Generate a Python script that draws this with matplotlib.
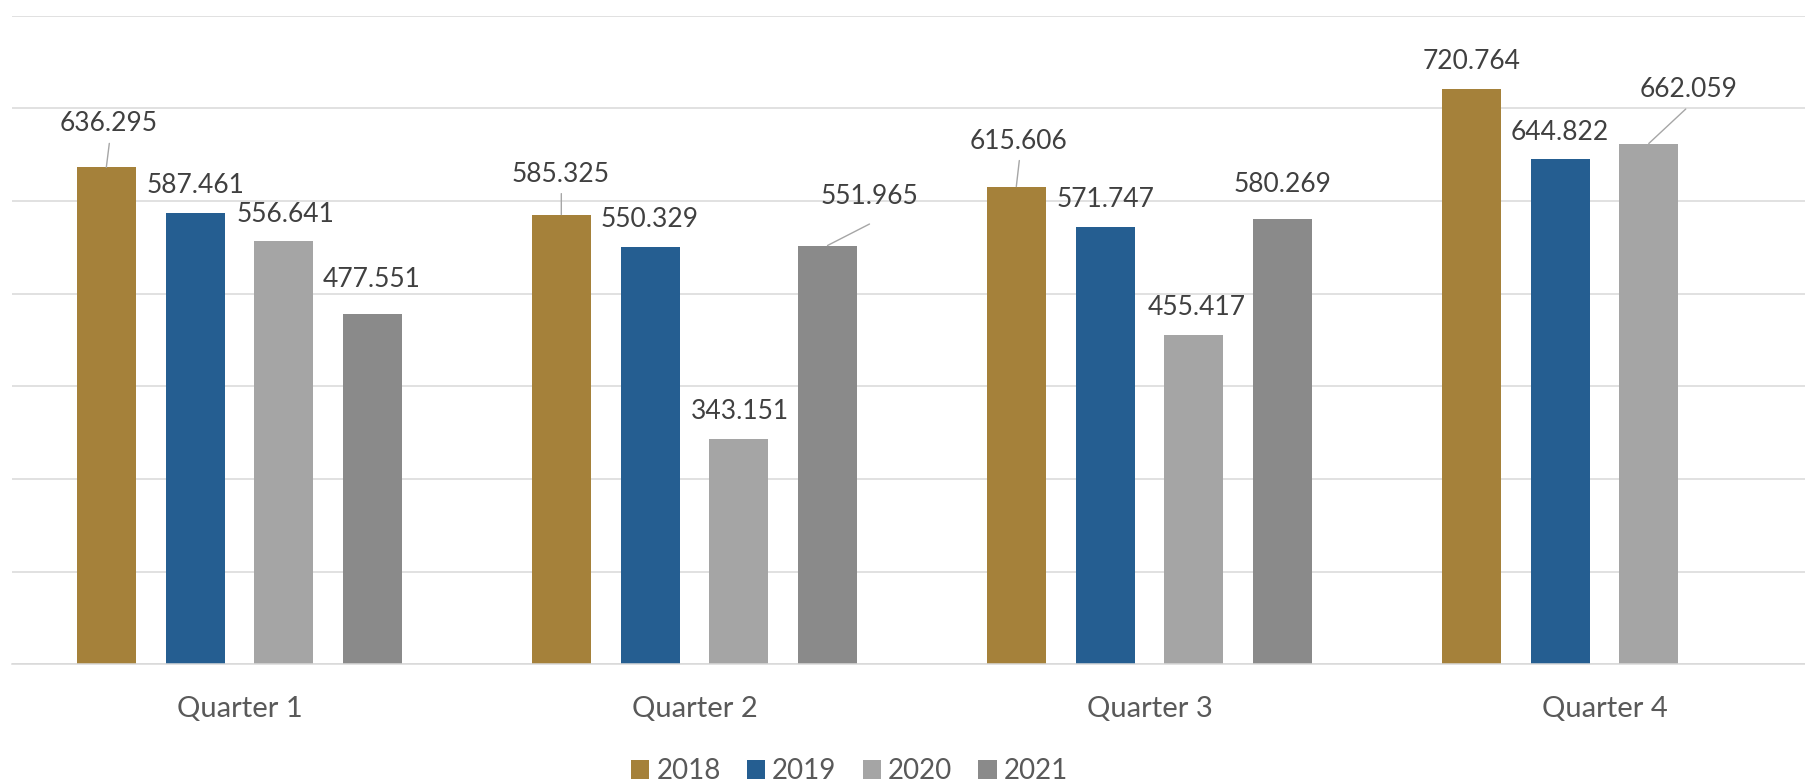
import numpy as np
import matplotlib
matplotlib.use("Agg")
from matplotlib import pyplot as plt
from matplotlib.patches import Patch

plt.rcParams["font.family"] = ["Lato", "DejaVu Sans"]

# ---- data ----
quarters = ["Quarter 1", "Quarter 2", "Quarter 3", "Quarter 4"]
years = ["2018", "2019", "2020", "2021"]
v2018 = [636.295, 585.325, 615.606, 720.764]
v2019 = [587.461, 550.329, 571.747, 644.822]
v2020 = [556.641, 343.151, 455.417, 662.059]
v2021 = [477.551, 551.965, 580.269, np.nan]   # no Q4 value

series = [v2018, v2019, v2020, v2021]
colors = ["#A5813A", "#255E91", "#A5A5A5", "#8A8A8A"]

# label offsets in pixels (dx, dy of baseline above bar top), per series and quarter
label_off = [
    [(2, 36), (-1, 33), (2.5, 38), (0, 20)],
    [(0, 20), (0, 20), (0, 20), (0, 19.5)],
    [(2, 19), (1.5, 20), (2.5, 20), (40, 47)],
    [(-1, 27.5), (41.5, 41.5), (0, 27.5), None],
]
# leader line end points (pixels from bar top), only where the label was moved
leaders = {
    (0, 0): (3, 24),
    (0, 1): (0, 21),
    (0, 2): (3, 26),
    (3, 1): (42, 21.5),
    (2, 3): (37, 34.5),
}

fig = plt.figure(figsize=(18.05, 7.81), dpi=100)
# plot area runs slightly past the right edge of the picture
ax = fig.add_axes([11.9 / 1805, 116.7 / 781, 1820 / 1805, 648.6 / 781])

x = np.arange(len(quarters))
step = 0.195
width = 0.1297

for i, vals in enumerate(series):
    xs = x + (i - 1.5) * step
    ax.bar(xs, vals, width=width, color=colors[i], zorder=2)
    for j, v in enumerate(vals):
        if np.isnan(v):
            continue
        dx, dy = label_off[i][j]
        ax.annotate("{0:.3f}".format(v), xy=(xs[j], v), xytext=(dx, dy),
                    textcoords="offset pixels", ha="center", va="baseline",
                    fontsize=19, color="#404040", annotation_clip=False)
        if (i, j) in leaders:
            ax.annotate("", xy=(xs[j], v), xytext=leaders[(i, j)],
                        textcoords="offset pixels",
                        arrowprops=dict(arrowstyle="-", color="#A6A6A6", lw=1.0,
                                        shrinkA=0, shrinkB=0))

ax.set_xlim(-0.5, 3.5)
ax.set_ylim(100, 800)
ax.set_yticks(np.arange(100, 801, 100))
ax.yaxis.grid(True, color="#D9D9D9", linewidth=1.1, zorder=0)
ax.set_axisbelow(True)
ax.tick_params(axis="y", left=False, labelleft=False)
ax.set_xticks(x, quarters)
ax.tick_params(axis="x", length=0, pad=23, labelsize=21, labelcolor="#595959")
for side in ["top", "right", "left"]:
    ax.spines[side].set_visible(False)
ax.spines["bottom"].set_color("#D9D9D9")
ax.spines["bottom"].set_linewidth(1.1)

handles = [Patch(facecolor=c, label=y) for c, y in zip(colors, years)]
fig.legend(handles=handles, loc="lower center", ncol=4, frameon=False,
           bbox_to_anchor=(849.5 / 1805, -0.004), fontsize=20,
           labelcolor="#595959", handlelength=0.65, handleheight=0.65,
           handletextpad=0.25, columnspacing=0.95, borderpad=0, borderaxespad=0)

fig.savefig("out.png", dpi=100, facecolor="white")
